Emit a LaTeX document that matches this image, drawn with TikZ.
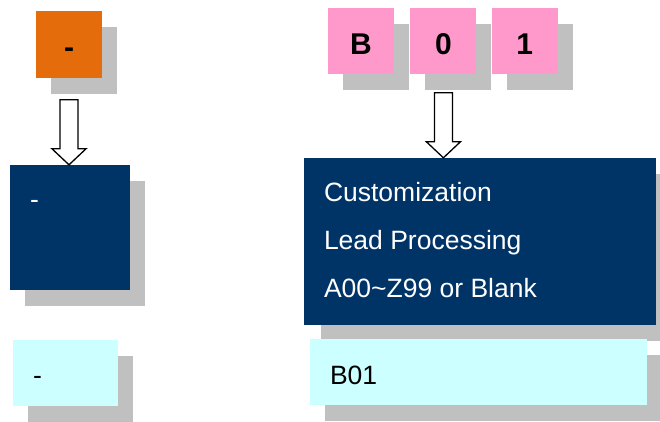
\documentclass[tikz,border=0pt]{standalone}
\usepackage{fontspec}
\setmainfont{Liberation Sans}
\usetikzlibrary{positioning}
\usetikzlibrary{shadows}
\definecolor{codeorange}{HTML}{E46C0A}
\definecolor{codepink}{HTML}{FF99CC}
\definecolor{codenavy}{HTML}{003366}
\definecolor{codecyan}{HTML}{CCFFFF}
\definecolor{shadowgray}{HTML}{C0C0C0}
\tikzset{boxshadow/.style={drop shadow={fill=shadowgray, opacity=1, shadow xshift=#1, shadow yshift=-16pt}}, boxshadow/.default=15pt}
\tikzset{
    charbox/.style={boxshadow, inner sep=0pt, minimum width=66pt, minimum height=66pt,
        font=\fontsize{30}{36}\selectfont\bfseries, text height=27pt, text depth=0pt},
    descbox/.style={fill=codenavy, inner sep=0pt},
    resultbox/.style={boxshadow, fill=codecyan, inner sep=0pt, minimum height=66pt},
    boxtext/.style={inner sep=0pt, anchor=base west, font=\fontsize{26.5}{32}\selectfont}
}
\tikzset{
    downarrow/.pic={
        \draw[line width=1.3pt, fill=white, line join=miter]
            (-9,65) -- (9,65) -- (9,16) -- (17,16) -- (0,0) -- (-17,16) -- (-9,16) -- cycle;
    }
}

\begin{document}
\begin{tikzpicture}[x=1pt, y=1pt]
    \path[use as bounding box, clip] (0,0) rectangle (660,421);
    % code characters
    \node[charbox, fill=codeorange, minimum height=67pt] (dash) at (69,376.5) {-};
    \node[charbox, fill=codepink] (bchar) at (361,380) {B};
    \node[charbox, fill=codepink, right=16pt of bchar] (zerochar) {0};
    \node[charbox, fill=codepink, right=15pt of zerochar] (onechar) {1};

    % descriptions
    \node[descbox, boxshadow, minimum width=120pt, minimum height=125pt] (ldesc) at (70,193.5) {};
    \node[descbox, boxshadow=17pt, minimum width=352pt, minimum height=167pt] (rdesc) at (480,179.5) {};
    \node[boxtext, text=white] (ldash) at ([shift={(20,-44)}]ldesc.north west) {-};
    \node[boxtext, text=white] (custline) at ([shift={(20,-44)}]rdesc.north west) {Customization};
    \node[boxtext, text=white] (leadline) at ([shift={(20,-92)}]rdesc.north west) {Lead Processing};
    \node[boxtext, text=white] (rangeline) at ([shift={(20,-140)}]rdesc.north west) {A00\textasciitilde Z99 or Blank};

    % results
    \node[resultbox, minimum width=105pt] (lres) at (65.5,48) {};
    \node[resultbox, minimum width=337pt] (rres) at (478.5,49) {};
    \node[boxtext] (lresdash) at ([shift={(20,-45)}]lres.north west) {-};
    \node[boxtext] (rrestext) at ([shift={(20,-46)}]rres.north west) {B01};

    \pic at (dash.south |- ldesc.north) {downarrow};
    \pic at (zerochar.south |- rdesc.north) {downarrow};

    % \draw[help lines, step=20] (0,0) grid (660,421);
\end{tikzpicture}
\end{document}
